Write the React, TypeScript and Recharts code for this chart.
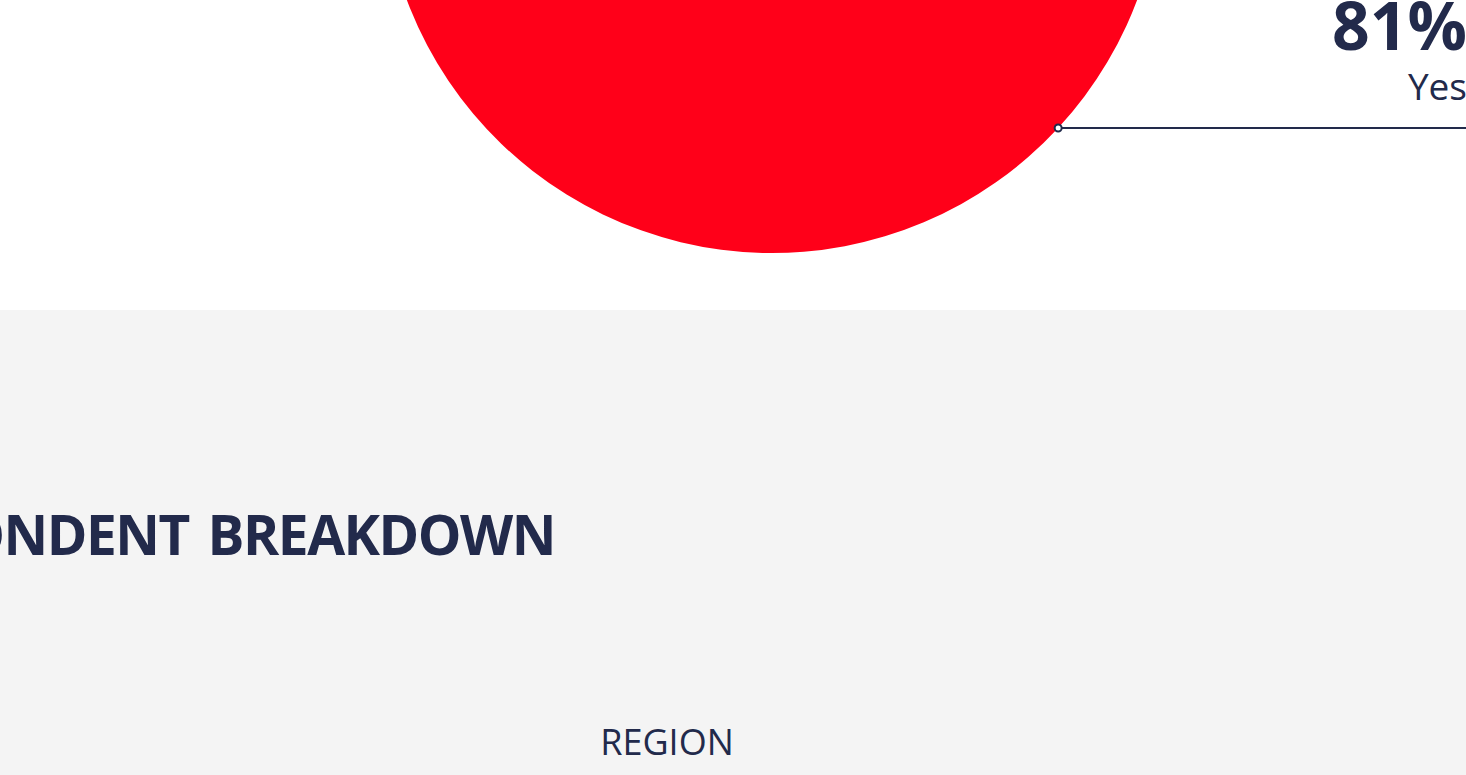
import React from 'react';
import { PieChart, Pie, Cell } from 'recharts';

const answers = ['Yes', 'No'];
const shares = [81, 19];
const colors = ['#ff0019', '#222a4b'];

const NAVY = '#222a4b';

const chartData = answers.map((name, i) => ({ name, value: shares[i] }));

const renderLabel = (props: any) => {
  const { cx, cy, midAngle, outerRadius, percent, name } = props;
  const rad = Math.PI / 180;
  const x = cx + outerRadius * Math.cos(-midAngle * rad);
  const y = cy + outerRadius * Math.sin(-midAngle * rad);
  const right = Math.cos(-midAngle * rad) >= 0;
  const endX = right ? 1470 : -4;
  const textX = right ? 1467 : 0;
  return (
    <g>
      <line x1={x} y1={y} x2={endX} y2={y} stroke={NAVY} strokeWidth={2} />
      <circle cx={x} cy={y} r={3.5} fill="#fff" stroke={NAVY} strokeWidth={2} />
      <text
        x={textX}
        y={y - 78}
        textAnchor={right ? 'end' : 'start'}
        fill={NAVY}
        style={{ fontFamily: '"Open Sans", sans-serif', fontWeight: 700, fontSize: 66 }}
      >
        {`${Math.round(percent * 100)}%`}
      </text>
      <text
        x={textX}
        y={y - 28}
        textAnchor={right ? 'end' : 'start'}
        fill={NAVY}
        style={{ fontFamily: '"Open Sans", sans-serif', fontSize: 37 }}
      >
        {name}
      </text>
    </g>
  );
};

export default function App() {
  return (
    <div
      style={{
        position: 'absolute',
        top: 0,
        left: 0,
        width: 1466,
        height: 775,
        overflow: 'hidden',
        background: '#fff',
        fontFamily: '"Open Sans", sans-serif',
        color: NAVY,
      }}
    >
      <PieChart width={1466} height={310} margin={{ top: 0, right: 0, bottom: 0, left: 0 }}>
        <Pie
          data={chartData}
          dataKey="value"
          nameKey="name"
          cx={772}
          cy={-137}
          outerRadius={390}
          startAngle={103}
          endAngle={-257}
          stroke="none"
          label={renderLabel}
          labelLine={false}
          isAnimationActive={false}
        >
          {chartData.map((d, i) => (
            <Cell key={d.name} fill={colors[i]} />
          ))}
        </Pie>
      </PieChart>
      <div
        style={{
          position: 'absolute',
          top: 310,
          left: 0,
          width: 1466,
          height: 465,
          background: '#f4f4f4',
        }}
      >
        <div
          style={{
            position: 'absolute',
            right: 1466 - 555,
            top: 189,
            fontWeight: 700,
            fontSize: 55,
            letterSpacing: -1.5,
            wordSpacing: 6,
            lineHeight: '70px',
            whiteSpace: 'nowrap',
          }}
        >
          RESPONDENT BREAKDOWN
        </div>
        <div
          style={{
            position: 'absolute',
            left: 567,
            width: 200,
            top: 410,
            textAlign: 'center',
            fontSize: 36,
            lineHeight: '44px',
          }}
        >
          REGION
        </div>
      </div>
    </div>
  );
}
